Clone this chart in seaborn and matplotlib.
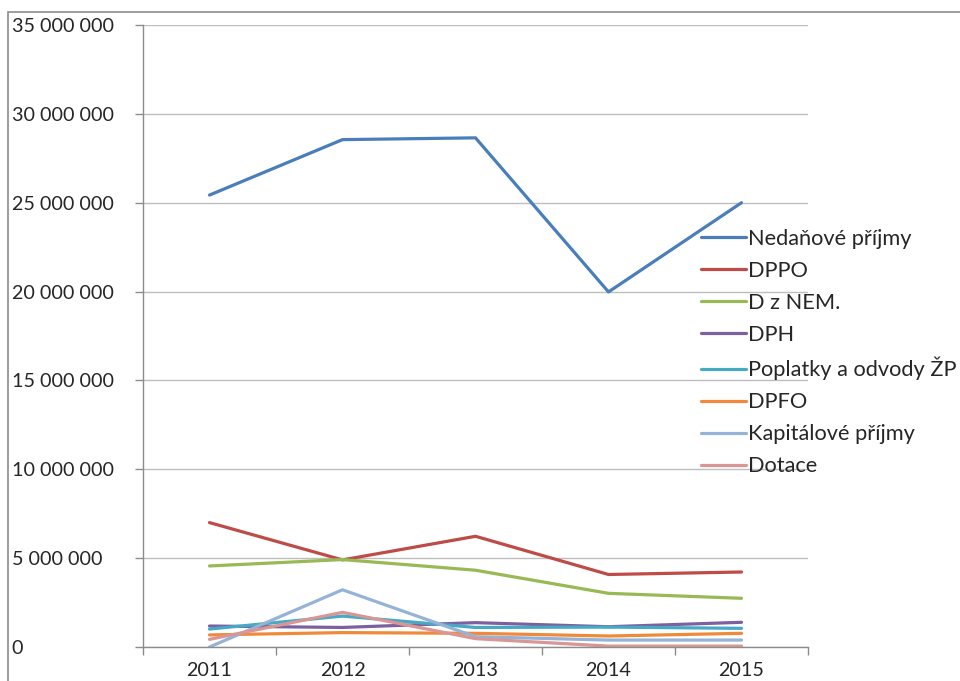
import matplotlib
matplotlib.use("Agg")
import matplotlib.pyplot as plt
import seaborn as sns
import pandas as pd
import numpy as np
from matplotlib.patches import Rectangle
from matplotlib.ticker import FuncFormatter

years = ["2011", "2012", "2013", "2014", "2015"]
series_names = ["Nedaňové příjmy", "DPPO", "D z NEM.", "DPH",
                "Poplatky a odvody ŽP", "DPFO", "Kapitálové příjmy", "Dotace"]
nedanove = [25430000, 28550000, 28650000, 19980000, 25000000]
dppo = [7000000, 4900000, 6230000, 4080000, 4220000]
dznem = [4560000, 4920000, 4320000, 3020000, 2740000]
dph = [1180000, 1100000, 1370000, 1140000, 1390000]
poplatky = [1010000, 1740000, 1100000, 1120000, 1050000]
dpfo = [680000, 810000, 770000, 620000, 770000]
kapitalove = [0, 3220000, 580000, 390000, 390000]
dotace = [430000, 1950000, 470000, 50000, 50000]
colors = ["#4A7EBB", "#BE4B48", "#98B954", "#7D60A0",
          "#46AAC5", "#F08A3A", "#95B3D7", "#D99694"]

values = [nedanove, dppo, dznem, dph, poplatky, dpfo, kapitalove, dotace]
rows = []
for name, vals in zip(series_names, values):
    for i, v in enumerate(vals):
        rows.append({"x": i, "serie": name, "value": v})
df = pd.DataFrame(rows)

sns.set_style("white")
plt.rcParams["font.family"] = ["Lato", "DejaVu Sans"]

W, H = 960, 681
fig = plt.figure(figsize=(W / 100, H / 100), dpi=100)
ax = fig.add_axes([143 / W, (H - 647) / H, (808 - 143) / W, (647 - 25) / H])

sns.lineplot(data=df, x="x", y="value", hue="serie", hue_order=series_names,
             palette=colors, linewidth=2.3, sort=False, ax=ax, legend=True)

ax.set_xlim(-0.5, 4.5)
ax.set_ylim(0, 35000000)
ax.set_yticks(np.arange(0, 35000001, 5000000))
ax.yaxis.set_major_formatter(FuncFormatter(lambda v, p: f"{int(v):,}".replace(",", " ")))
ax.set_xticks(range(5))
ax.set_xticklabels(years)
ax.set_xticks(np.arange(-0.5, 4.6, 1), minor=True)
ax.set_xlabel("")
ax.set_ylabel("")
ax.grid(axis="y", color="#BDBDBD", linewidth=1)
ax.set_axisbelow(True)
for s in ["top", "right"]:
    ax.spines[s].set_visible(False)
for s in ["left", "bottom"]:
    ax.spines[s].set_color("#8C8C8C")
    ax.spines[s].set_linewidth(1)

ax.tick_params(axis="y", which="major", direction="out", length=6, color="#8C8C8C",
               width=1, pad=88.5, labelsize=14.2, left=True)
for lab in ax.get_yticklabels():
    lab.set_horizontalalignment("left")
ax.tick_params(axis="x", which="major", length=0, pad=11, labelsize=14.2)
ax.tick_params(axis="x", which="minor", direction="out", length=6, color="#8C8C8C",
               width=1, bottom=True)

leg = ax.legend(loc="upper left", bbox_to_anchor=(701 / W, (H - 229) / H),
                bbox_transform=fig.transFigure, frameon=False, fontsize=15.7,
                handlelength=2.05, handletextpad=0.1, labelspacing=0.55,
                borderaxespad=0, borderpad=0)
for line in leg.get_lines():
    line.set_linewidth(2.3)

fig.patches.append(Rectangle((8 / W, -0.01), 1.0, (H - 12) / H + 0.01,
                             transform=fig.transFigure, fill=False,
                             edgecolor="#8C8C8C", linewidth=1.2))

fig.savefig("out.png", dpi=100)
